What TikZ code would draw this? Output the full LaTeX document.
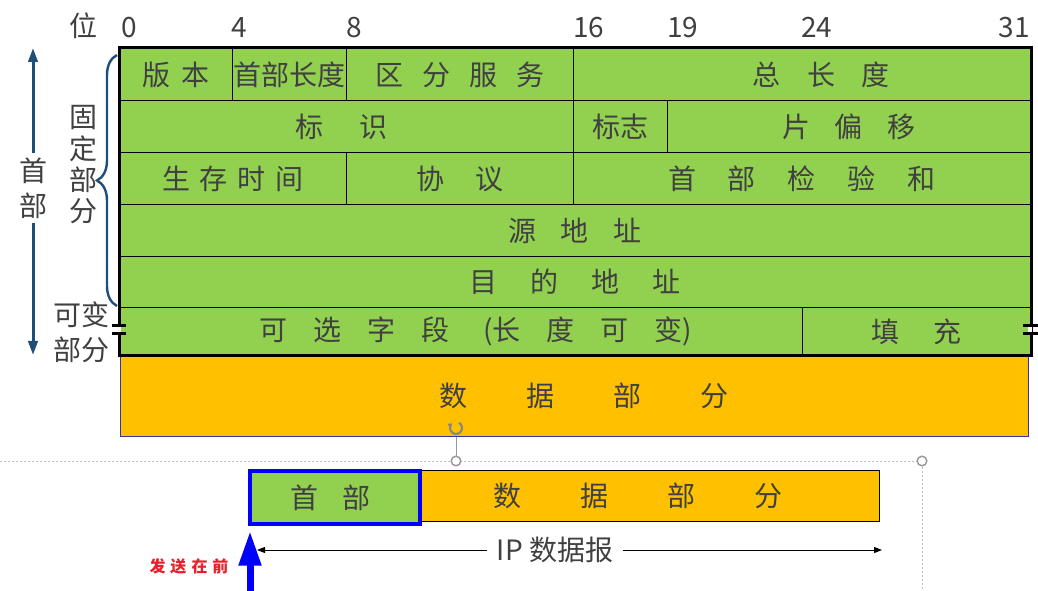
\documentclass[tikz,border=0pt]{standalone}
\usepackage{fontspec}
\setmainfont{Noto Sans CJK SC}
\usetikzlibrary{arrows.meta,decorations.pathreplacing}
\definecolor{ipgreen}{HTML}{92D050}
\definecolor{iporange}{HTML}{FFC000}
\definecolor{txtgray}{HTML}{404040}
\definecolor{hdrblue}{HTML}{1F4E79}
\definecolor{boxblue}{HTML}{3333AA}
\definecolor{sendblue}{HTML}{0000FF}
\definecolor{sendred}{HTML}{E8202A}
\definecolor{selgray}{HTML}{BFBFBF}
\newdimen\px \px=0.75pt
% letter spacing: \spaced{gap}{chars}
\newcommand\spaced[2]{\def\spgap{\hspace{#1}}\spfirst#2\relax}
\def\spfirst#1{\ifx#1\relax\else#1\expandafter\sprest\fi}
\def\sprest#1{\ifx#1\relax\else\spgap#1\expandafter\sprest\fi}
\begin{document}
\begin{tikzpicture}[x=0.75pt,y=-0.75pt,font=\fontsize{21}{25}\selectfont,
	every node/.style={text=txtgray},
	cell/.style={draw,line width=0.75pt,fill=ipgreen,anchor=north west,inner sep=0pt,minimum height=52\px},
	bit/.style={anchor=base west,inner sep=0pt},
	brk/.style={line width=2.25pt,black},
	handle/.style={selgray!80!black,line width=1.1pt,fill=white}]
	\useasboundingbox (0,0) rectangle (1038,591);
	% header rows
	\node[cell,minimum width=113\px] (ver) at (119,48) {\spaced{12\px}{版本}};
	\node[cell,minimum width=114\px] (ihl) at (232,48) {首部长度};
	\node[cell,minimum width=227\px] (tos) at (346,48) {\spaced{19\px}{区分服务}};
	\node[cell,minimum width=457\px] (tlen) at (573,48) {\hspace{38\px}\spaced{27\px}{总长度}};
	\node[cell,minimum width=454\px] (ident) at (119,100) {\spaced{36\px}{标识}\kern10\px};
	\node[cell,minimum width=94\px] (flag) at (573,100) {标志};
	\node[cell,minimum width=363\px] (foff) at (667,100) {\spaced{25\px}{片偏移}};
	\node[cell,minimum width=227\px] (ttl) at (119,152) {\spaced{10\px}{生存时间}};
	\node[cell,minimum width=227\px] (proto) at (346,152) {\spaced{32\px}{协议}};
	\node[cell,minimum width=457\px] (csum) at (573,152) {\spaced{32\px}{首部检验和}};
	\node[cell,minimum width=911\px] (src) at (119,204) {\spaced{25\px}{源地址}};
	\node[cell,minimum width=911\px,minimum height=51\px] (dst) at (119,256) {\spaced{33\px}{目的地址}};
	\node[cell,minimum width=683\px,minimum height=48\px] (opt) at (119,307)
		{\hspace{30\px}\spaced{26\px}{可选字段}\hspace{34\px}(\spaced{26\px}{长度可变})};
	\node[cell,minimum width=228\px,minimum height=48\px] (pad) at (802,307) {\spaced{34\px}{填充}};
	\node[anchor=north west,fill=iporange,draw=boxblue,line width=0.6pt,inner sep=0pt,
		minimum width=908\px,minimum height=81\px] (data) at (120,355) {\hspace{20\px}\spaced{59\px}{数据部分}};
	\draw[line width=2.25pt] (ver.north west) rectangle (pad.south east);
	% break marks
	\draw[white,line width=2.5pt] (119,327.5) -- (119,332.5) (1030,327.5) -- (1030,332.5);
	\draw[brk] (112,326) -- (126,326) (112,334) -- (126,334);
	\draw[brk] (1023,326) -- (1040,326) (1023,334) -- (1040,334);
	% bit numbers
	\node (wei) at (83,26) {位};
	\node[bit] (b0) at (121,38) {0};
	\node[bit] (b4) at (231,38) {4};
	\node[bit] (b8) at (346,38) {8};
	\node[bit] (b16) at (573,38) {16};
	\node[bit] (b19) at (667,38) {19};
	\node[bit] (b24) at (801,38) {24};
	\node[bit,anchor=base east] (b31) at (1030,38) {31};
	% left labels
	\node[align=center,font=\fontsize{21}{26}\selectfont] (hdlbl) at (33,188) {首\\部};
	\coordinate (hdT) at (33,48);
	\coordinate (hdB) at (33,355);
	\draw[hdrblue,line width=2.25pt,-{Triangle[length=10.5pt,width=7pt]}] (hdlbl.north) -- (hdT);
	\draw[hdrblue,line width=2.25pt,-{Triangle[length=10.5pt,width=7pt]}] (hdlbl.south) -- (hdB);
	\node[align=center,font=\fontsize{21}{23.5}\selectfont] (fixlbl) at (83,165) {固\\定\\部\\分};
	\coordinate (brT) at (117,55);
	\coordinate (brB) at (117,306);
	\draw[hdrblue,line width=1.8pt,decorate,decoration={brace,amplitude=15pt}] (brB) -- (brT);
	\node[align=center,font=\fontsize{21}{26}\selectfont] (varlbl) at (81,332) {可变\\部分};
	% selection frame
	\draw[selgray,line width=0.75pt,dash pattern=on 1.5pt off 1.5pt] (0,461) -- (922,461) -- (922,591);
	\draw[selgray!80!black,line width=0.75pt] (456,437) -- (456,456);
	\draw[handle] (456,461) circle (3.6pt);
	\draw[handle] (922,461) circle (3.6pt);
	\draw[selgray!70!black,line width=1.6pt,-{Triangle[length=3pt,width=4pt]}] (456,428) ++(60:4.5pt) arc[start angle=60,end angle=-230,radius=4.5pt];
	% datagram
	\node[anchor=north west,fill=iporange,draw=black,line width=1.1pt,inner sep=0pt,
		minimum width=461\px,minimum height=51\px] (dgdata) at (418,470) {\spaced{59\px}{数据部分}\kern22\px};
	\node[anchor=north west,fill=ipgreen,draw=sendblue,line width=3pt,inner sep=0pt,
		minimum width=170\px,minimum height=53\px] (dghdr) at (248,469) {\spaced{24\px}{首部}\kern10\px};
	\node[inner xsep=10\px] (dglbl) at (555,550) {IP 数据报};
	\coordinate (dgL) at (257,550);
	\coordinate (dgR) at (882,550);
	\draw[line width=0.75pt,-{Triangle[length=6pt,width=4.5pt]}] (dglbl.west) -- (dgL);
	\draw[line width=0.75pt,-{Triangle[length=6pt,width=4.5pt]}] (dglbl.east) -- (dgR);
	\coordinate (sndF) at (250,591);
	\coordinate (sndT) at (250,531);
	\draw[sendblue,line width=5.25pt,-{Triangle[length=26pt,width=16pt]}] (sndF) -- (sndT);
	\node[text=sendred,font=\fontsize{12}{14}\selectfont\bfseries] (sndlbl) at (189,566) {\spaced{5\px}{发送在前}};
\end{tikzpicture}
\end{document}
